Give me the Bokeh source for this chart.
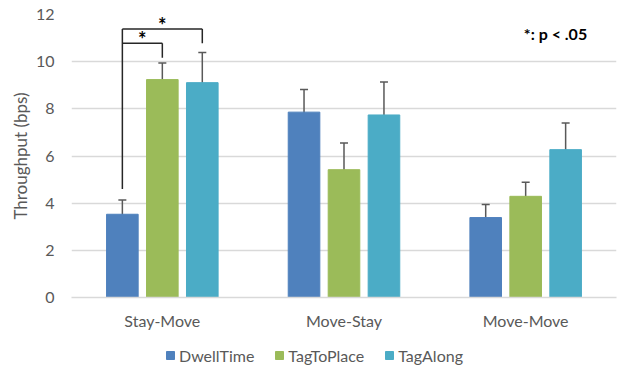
from bokeh.plotting import figure
from bokeh.layouts import column
from bokeh.models import (ColumnDataSource, FactorRange, Range1d, FixedTicker,
                          Whisker, TeeHead, Legend, LegendItem)
from bokeh.transform import dodge
from bokeh.core.properties import value
from bokeh.embed import file_html
from bokeh.resources import INLINE

conditions = ["Stay-Move", "Move-Stay", "Move-Move"]
techniques = ["DwellTime", "TagToPlace", "TagAlong"]
dwell_mean = [3.53, 7.86, 3.39]
dwell_err = [0.60, 0.96, 0.55]
tagplace_mean = [9.24, 5.42, 4.29]
tagplace_err = [0.70, 1.13, 0.60]
tagalong_mean = [9.11, 7.74, 6.27]
tagalong_err = [1.28, 1.40, 1.13]
colors = ["#4F81BD", "#9BBB59", "#4BACC6"]
y_ticks = [0, 2, 4, 6, 8, 10, 12]

# significance annotation (Stay-Move)
sig_condition = "Stay-Move"
sig_pairs = [("DwellTime", "TagToPlace"), ("DwellTime", "TagAlong")]
sig_bracket_y = [10.78, 11.38]
sig_drop_y = [10.17, 10.78]
sig_base_y = 4.6
note_text = "*: p < .05"

FONT = "Lato"
FS = "16px"
GRAY = "#595959"
offsets = {"DwellTime": -0.22, "TagToPlace": 0.0, "TagAlong": 0.22}
bar_w = 0.174

p = figure(width=618, height=340, output_backend="svg", toolbar_location=None,
           x_range=FactorRange(*conditions, range_padding=0, factor_padding=0),
           y_range=Range1d(0, 12),
           min_border_left=71, min_border_right=2, min_border_top=14, min_border_bottom=43)
p.outline_line_color = None
p.background_fill_color = "white"
p.border_fill_color = "white"

means = [dwell_mean, tagplace_mean, tagalong_mean]
errs = [dwell_err, tagplace_err, tagalong_err]
for tech, m, e, c in zip(techniques, means, errs, colors):
    src = ColumnDataSource(dict(cond=conditions, val=m,
                                upper=[a + b for a, b in zip(m, e)],
                                lower=[a - b for a, b in zip(m, e)]))
    p.vbar(x=dodge("cond", offsets[tech], range=p.x_range), top="val", width=bar_w,
           source=src, fill_color=c, line_color=c)
    w = Whisker(source=src, base=dodge("cond", offsets[tech], range=p.x_range),
                upper="upper", lower="lower", line_color=GRAY, line_width=1.5,
                upper_head=TeeHead(size=8, line_color=GRAY, line_width=1.5),
                lower_head=TeeHead(size=8, line_color=GRAY, line_width=1.5))
    p.add_layout(w)

# brackets
x0, y0, x1, y1 = [], [], [], []
left = (sig_condition, offsets[sig_pairs[0][0]])
x0.append(left); y0.append(sig_base_y); x1.append(left); y1.append(max(sig_bracket_y))
star_x, star_y = [], []
for (a, b), by, dy in zip(sig_pairs, sig_bracket_y, sig_drop_y):
    xa = (sig_condition, offsets[a]); xb = (sig_condition, offsets[b])
    x0.append(xa); y0.append(by); x1.append(xb); y1.append(by)
    x0.append(xb); y0.append(by); x1.append(xb); y1.append(dy)
    star_x.append((sig_condition, (offsets[a] + offsets[b]) / 2)); star_y.append(by)
p.segment(x0=x0, y0=y0, x1=x1, y1=y1, line_color="#262626", line_width=1.5)
p.text(x=star_x, y=star_y, text=["*"] * len(star_x), text_font=value(FONT),
       text_font_style="bold", text_font_size="20px", text_color="black",
       text_align="center", text_baseline="bottom", y_offset=8)
p.text(x=[("Move-Move", -0.01)], y=[11.2], text=[note_text], text_font=value(FONT),
       text_font_style="bold", text_font_size=FS, text_color="black",
       text_align="left", text_baseline="middle")

# axes
p.yaxis.ticker = FixedTicker(ticks=y_ticks)
p.yaxis.axis_line_color = None
p.yaxis.major_tick_line_color = None
p.yaxis.major_tick_out = 0
p.yaxis.minor_tick_line_color = None
p.yaxis.major_label_text_font = FONT
p.yaxis.major_label_text_font_size = FS
p.yaxis.major_label_text_color = GRAY
p.yaxis.major_label_standoff = 17
p.yaxis.axis_label = "Throughput (bps)"
p.yaxis.axis_label_text_font = FONT
p.yaxis.axis_label_text_font_size = "17px"
p.yaxis.axis_label_text_font_style = "normal"
p.yaxis.axis_label_text_color = GRAY
p.yaxis.axis_label_standoff = 2

p.xaxis.axis_line_color = "#d9d9d9"
p.xaxis.axis_line_width = 1.5
p.xaxis.major_tick_line_color = None
p.xaxis.major_tick_out = 0
p.xaxis.minor_tick_line_color = None
p.xaxis.major_label_text_font = FONT
p.xaxis.major_label_text_font_size = FS
p.xaxis.major_label_text_color = GRAY
p.xaxis.major_label_standoff = 13

p.xgrid.grid_line_color = None
p.ygrid.grid_line_color = "#d9d9d9"
p.ygrid.grid_line_width = 1.5

# legend strip below the chart (hidden proxy renderers supply the swatches)
lf = figure(width=618, height=30, output_backend="svg", toolbar_location=None,
            x_axis_type=None, y_axis_type=None,
            x_range=Range1d(0, 1), y_range=Range1d(0, 1),
            min_border_left=0, min_border_right=0, min_border_top=0, min_border_bottom=0)
lf.grid.visible = False
lf.outline_line_color = None
lf.background_fill_color = "white"
lf.border_fill_color = "white"
items = []
for tech, c, m in zip(techniques, colors, means):
    r = lf.vbar(x=[0.5], top=[m[0]], width=0.1, fill_color=c, line_color=c)
    r.visible = False
    items.append(LegendItem(label=tech, renderers=[r]))
legend = Legend(items=items, orientation="horizontal", location=(94, 5),
                padding=0, margin=0, spacing=20, label_standoff=4,
                glyph_width=10, glyph_height=10, label_height=20,
                border_line_color=None, background_fill_alpha=0,
                label_text_font=FONT, label_text_font_size=FS,
                label_text_color=GRAY, click_policy="none")
lf.add_layout(legend, "center")

layout = column(p, lf, spacing=0)
open("out.html", "w").write(file_html(layout, INLINE))
